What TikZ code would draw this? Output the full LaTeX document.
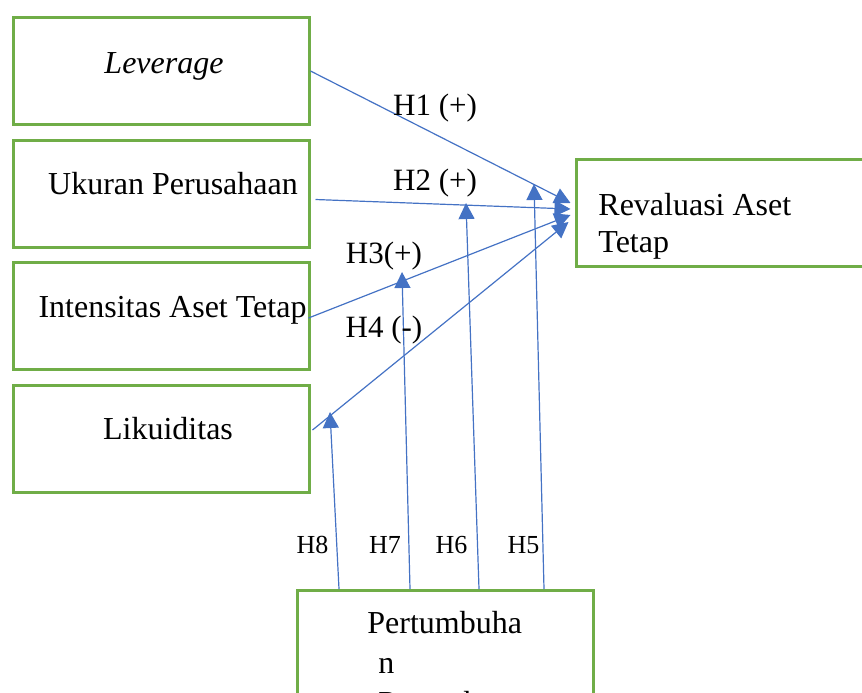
\documentclass[tikz,border=0pt]{standalone}
\usepackage{fontspec}
\setmainfont{Liberation Serif}
\usetikzlibrary{
  arrows.meta,
  positioning,
  calc
}
\definecolor{BoxGreen}{RGB}{112,173,71}
\definecolor{PathBlue}{RGB}{68,114,196}
\tikzset{
  varbox/.style={draw=BoxGreen,line width=1.5pt,minimum width=148pt,minimum height=53.5pt,inner sep=0pt},
  vartext/.style={font=\fontsize{16}{18.5}\selectfont,inner sep=0pt,anchor=base},
  hyparrow/.style={-{Triangle[length=8pt,width=8pt]},line width=0.6pt,draw=PathBlue},
  hyplabel/.style={font=\fontsize{15.5}{18.5}\selectfont,inner sep=0pt,anchor=base},
  modlabel/.style={font=\fontsize{13}{15}\selectfont,inner sep=0pt,anchor=base}
}
\begin{document}
\begin{tikzpicture}[x=0.5pt,y=-0.5pt,node distance=6.25pt]
\useasboundingbox (0,0) rectangle (862,692);
\clip (0,0) rectangle (862,692);
\node[varbox] (lev) at (161,71) {};
\node[varbox, below=of lev] (ukr) {};
\node[varbox, below=of ukr] (int) {};
\node[varbox, below=6.5pt of int] (liq) {};
\node[varbox] (rev) at (724,212.5) {};
\node[varbox, minimum height=65pt] (pert) at (445,655.5) {};
\node[vartext, font=\fontsize{16}{18.5}\selectfont\itshape] (levt) at (164,73) {Leverage};
\node[vartext] (ukrt) at (173,194) {Ukuran Perusahaan};
\node[vartext] (intt) at (172.5,317) {Intensitas Aset Tetap};
\node[vartext] (liqt) at (168,439) {Likuiditas};
\node[vartext, anchor=west, align=left] (revt) at (598,226.5) {Revaluasi Aset\\Tetap};
\node[vartext, anchor=north west, align=left, font=\fontsize{16}{20}\selectfont] (pertt) at (378,610.8)
  {\hspace*{-5.5pt}Pertumbuha\\n\\Perusahaan};
\draw[hyparrow] (lev.east) -- ($(rev.west)+(-4,-9.5)$);
\draw[hyparrow] ($(ukr.east)+(5,6)$) -- ($(rev.west)+(-4,-3.5)$);
\draw[hyparrow] ($(int.east)+(-2,2)$) -- ($(rev.west)+(-4,2.5)$);
\draw[hyparrow] ($(liq.east)+(2,-9)$) -- ($(rev.west)+(-6,9.5)$);
\coordinate (m5) at (534,184);
\coordinate (m6) at (466,203);
\coordinate (m7) at (402,272);
\coordinate (m8) at (330,412);
\draw[hyparrow] ($(pert.north)+(99,0)$) -- (m5);
\draw[hyparrow] ($(pert.north)+(34,0)$) -- (m6);
\draw[hyparrow] ($(pert.north)+(-35,0)$) -- (m7);
\draw[hyparrow] ($(pert.north)+(-106,0)$) -- (m8);
\node[hyplabel] (h1) at (435,115) {H1 (+)};
\node[hyplabel] (h2) at (435,190) {H2 (+)};
\node[hyplabel] (h3) at (384,263) {H3(+)};
\node[hyplabel] (h4) at (384,337) {H4 (-)};
\node[modlabel] (h8) at (312.5,553) {H8};
\node[modlabel] (h7) at (385,553) {H7};
\node[modlabel] (h6) at (451.5,553) {H6};
\node[modlabel] (h5) at (523.5,553) {H5};
\end{tikzpicture}
\end{document}
